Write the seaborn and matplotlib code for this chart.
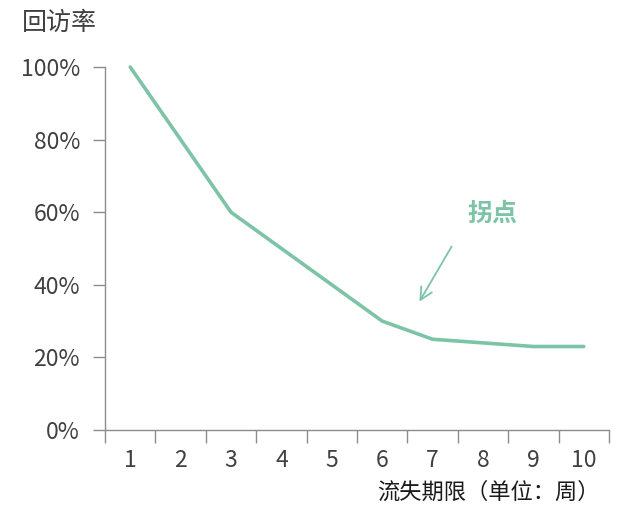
import pandas as pd
import seaborn as sns
import matplotlib.pyplot as plt
from matplotlib.ticker import FixedLocator

weeks = [1, 2, 3, 4, 5, 6, 7, 8, 9, 10]
revisit_rate = [1.00, 0.80, 0.60, 0.50, 0.40, 0.30, 0.25, 0.24, 0.23, 0.23]
y_ticks = [0, 0.2, 0.4, 0.6, 0.8, 1.0]
y_labels = ["0%", "20%", "40%", "60%", "80%", "100%"]

green = "#7dc4a6"
grey = "#8c8c8c"
text_col = "#404040"

sns.set_theme(style="white")
plt.rcParams["font.family"] = ["Noto Sans CJK SC", "DejaVu Sans"]

df = pd.DataFrame({"week": weeks, "rate": revisit_rate})

fig = plt.figure(figsize=(6.41, 5.19), dpi=100)
ax = fig.add_axes([105 / 641, 1 - 430 / 519, (609 - 105) / 641, (430 - 67) / 519])

sns.lineplot(data=df, x="week", y="rate", ax=ax, color=green, linewidth=2.6)
for ln in ax.lines:
    ln.set_clip_on(False)

ax.set_xlim(0.5, 10.5)
ax.set_ylim(0, 1.0)

ax.set_xticks(weeks)
ax.set_xticklabels([str(w) for w in weeks], fontsize=16.5, color=text_col)
ax.xaxis.set_minor_locator(FixedLocator([w + 0.5 for w in range(11)]))
ax.tick_params(axis="x", which="major", length=0, pad=14)
ax.tick_params(axis="x", which="minor", length=9, width=1, color=grey, direction="out", bottom=True)

ax.set_yticks(y_ticks)
ax.set_yticklabels(y_labels, fontsize=16.5, color=text_col)
ax.tick_params(axis="y", length=9, width=1, color=grey, direction="out", left=True, pad=9)

for side in ["top", "right"]:
    ax.spines[side].set_visible(False)
for side in ["left", "bottom"]:
    ax.spines[side].set_color(grey)
    ax.spines[side].set_linewidth(1)

ax.set_xlabel("")
ax.set_ylabel("")

# inflection point annotation
ax.annotate("", xy=(6.71, 0.347), xytext=(7.405, 0.512),
            arrowprops=dict(arrowstyle="->", color=green, lw=1.3, mutation_scale=22))
ax.text(8.18, 0.595, "拐点", color=green, fontsize=18, fontweight="bold",
        ha="center", va="center")

fig.text(22 / 641, 1 - 23 / 519, "回访率", fontsize=18, color=text_col, ha="left", va="center")
fig.text(600 / 641, 1 - 492 / 519, "流失期限（单位：周）", fontsize=16, color="#1a1a1a",
         ha="right", va="center")

fig.savefig("out.png", dpi=100)
